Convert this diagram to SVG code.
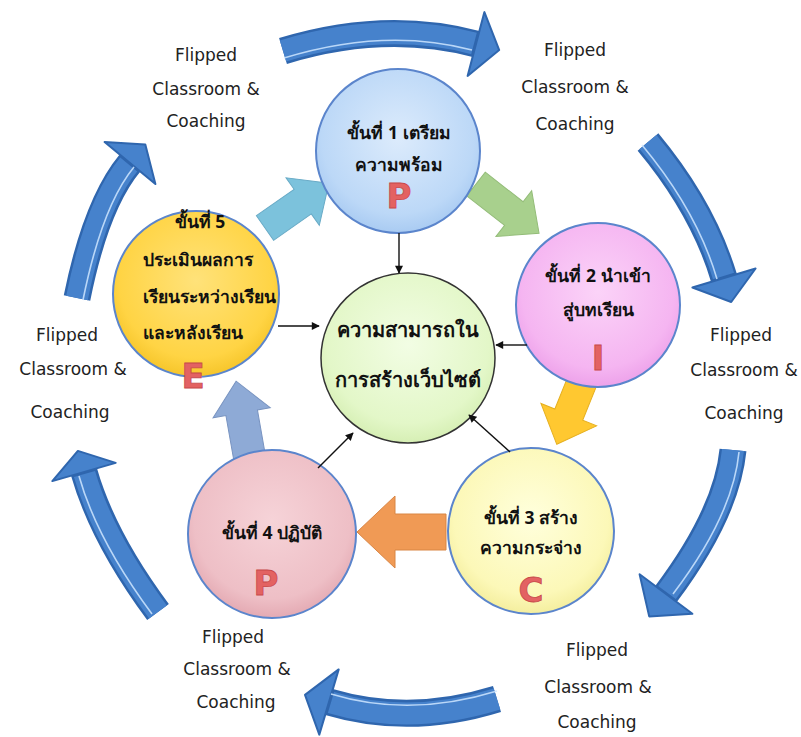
<svg xmlns="http://www.w3.org/2000/svg" width="801" height="737" viewBox="0 0 801 737">
<defs>
<radialGradient id="gBlue" cx="50%" cy="42%" r="58%"><stop offset="0" stop-color="#DCEBFC"/><stop offset="0.8" stop-color="#BCD8F7"/><stop offset="1" stop-color="#A9CBF2"/></radialGradient>
<radialGradient id="gPink" cx="50%" cy="42%" r="58%"><stop offset="0" stop-color="#FBD3F8"/><stop offset="0.8" stop-color="#F5B5F1"/><stop offset="1" stop-color="#EDA2EA"/></radialGradient>
<radialGradient id="gLY" cx="50%" cy="42%" r="58%"><stop offset="0" stop-color="#FFFFDC"/><stop offset="0.8" stop-color="#FCF8B8"/><stop offset="1" stop-color="#F4EE9E"/></radialGradient>
<radialGradient id="gRose" cx="50%" cy="42%" r="58%"><stop offset="0" stop-color="#F6D3D8"/><stop offset="0.8" stop-color="#EEBFC6"/><stop offset="1" stop-color="#E4AAB3"/></radialGradient>
<radialGradient id="gGold" cx="50%" cy="42%" r="58%"><stop offset="0" stop-color="#FFE27A"/><stop offset="0.8" stop-color="#FFD444"/><stop offset="1" stop-color="#F6C52A"/></radialGradient>
<radialGradient id="gGreen" cx="50%" cy="42%" r="58%"><stop offset="0" stop-color="#F2FDE4"/><stop offset="0.8" stop-color="#E3F7C8"/><stop offset="1" stop-color="#D6EFB4"/></radialGradient>
<marker id="ah" viewBox="0 0 10 10" refX="9" refY="5" markerWidth="9" markerHeight="8" orient="auto" markerUnits="userSpaceOnUse"><path d="M0,0 L10,5 L0,10 z" fill="#111"/></marker>
<style>
.lbl{font-family:'DejaVu Sans',sans-serif;font-size:17px;fill:#222;text-anchor:middle}
.th{font-family:'Noto Sans','DejaVu Sans',sans-serif;font-size:17.5px;font-weight:bold;fill:#111;text-anchor:middle}
.ctr{font-size:20px}
.st{text-anchor:start}
.big{font-family:'DejaVu Sans',sans-serif;font-weight:bold;font-size:34px;fill:#E36262;stroke:#C84A4A;stroke-width:.8;text-anchor:middle}
.ring{stroke:#5B85CC;stroke-width:2}
.bodyo{fill:none;stroke:#2F66AE;stroke-width:27}
.bodyi{fill:none;stroke:#4682CC;stroke-width:22}
.hl{fill:none;stroke:#CFE6FF;stroke-width:1.6;opacity:.85}
.head{fill:#4682CC;stroke:#2F66AE;stroke-width:2;stroke-linejoin:round}
.blk{stroke-width:1;stroke-linejoin:miter}
.conn{stroke:#111;stroke-width:1.4;fill:none;marker-end:url(#ah)}
</style>
</defs>
<rect width="801" height="737" fill="#fff"/>

<g id="cycle-arrows">
<g id="cyc1"><path class="bodyo" d="M283,51 Q385,20 476,44"/><path class="head" d="M467.6,75.9 L499.2,50.1 L484.4,12.1 z"/><path class="bodyi" d="M283,51 Q385,20 474,43.5"/><path class="hl" d="M284,58 Q385,27 472,50"/></g>
<g id="cyc2"><path class="bodyo" d="M648,142 Q703,208 724,278"/><path class="head" d="M692.4,287.5 L731.2,302 L755.6,268.5 z"/><path class="bodyi" d="M648,142 Q703,208 723.5,276"/><path class="hl" d="M642,145 Q697,211 717,279"/></g>
<g id="cyc3"><path class="bodyo" d="M733,450 Q726.7,513 666,594"/><path class="head" d="M692.4,613.8 L649.2,616.4 L639.6,574.2 z"/><path class="bodyi" d="M733,450 Q726.7,513 667,592.5"/><path class="hl" d="M739,452 Q733,515 673,594"/></g>
<g id="cyc4"><path class="bodyo" d="M497,699 Q410,726 329,702"/><path class="head" d="M338.7,669.4 L305,694.9 L319.3,734.6 z"/><path class="bodyi" d="M497,699 Q410,726 331,702.5"/><path class="hl" d="M497,691 Q410,718 331,694"/></g>
<g id="cyc5"><path class="bodyo" d="M158,612 Q103,538 84,472"/><path class="head" d="M115.7,462.9 L77.9,450.9 L52.3,481.1 z"/><path class="bodyi" d="M158,612 Q103,538 84.5,474"/><path class="hl" d="M152,614 Q97,540 79,476"/></g>
<g id="cyc6"><path class="bodyo" d="M77,298 Q96,204 130,163"/><path class="head" d="M155.4,184 L145.3,144.5 L104.6,142 z"/><path class="bodyi" d="M77,298 Q96,204 128.7,164.5"/><path class="hl" d="M83,300 Q102,206 134,167"/></g>
</g>

<g id="step-arrows">
<polygon class="blk" transform="translate(265,228) rotate(-35)" points="0,-15 46,-15 46,-29 78,0 46,29 46,15 0,15" fill="#7CC2DC" stroke="#68AAC6"/>
<polygon class="blk" transform="translate(476,184) rotate(38)" points="0,-15 48,-15 48,-29 80,0 48,29 48,15 0,15" fill="#A8D08D" stroke="#93BC78"/>
<polygon class="blk" transform="translate(586,372) rotate(112)" points="0,-15 46,-15 46,-30 78,0 46,30 46,15 0,15" fill="#FFC830" stroke="#E6B020"/>
<polygon class="blk" transform="translate(446,532) rotate(180)" points="0,-18 51,-18 51,-36 89,0 51,36 51,18 0,18" fill="#F09A55" stroke="#D98645"/>
<polygon class="blk" transform="translate(250,460) rotate(-100)" points="0,-16 48,-16 48,-29 80,0 48,29 48,16 0,16" fill="#8EAAD6" stroke="#7893C0"/>
</g>

<g id="node-center"><ellipse cx="408" cy="358" rx="87" ry="85" fill="url(#gGreen)" stroke="#333" stroke-width="1.5"/>
<text class="th ctr" x="408" y="337">ความสามารถใน</text>
<text class="th ctr" x="408" y="387">การสร้างเว็บไซต์</text></g>

<g id="node-1"><circle class="ring" cx="398" cy="151" r="82" fill="url(#gBlue)"/>
<text class="th" x="399" y="139">ขั้นที่ 1 เตรียม</text>
<text class="th" x="399" y="171">ความพร้อม</text>
<text class="big" x="399" y="208">P</text></g>

<g id="node-2"><circle class="ring" cx="598" cy="305" r="82" fill="url(#gPink)"/>
<text class="th" x="598" y="282">ขั้นที่ 2 นำเข้า</text>
<text class="th" x="598" y="316">สู่บทเรียน</text>
<text class="big" x="598" y="370">I</text></g>

<g id="node-3"><circle class="ring" cx="531" cy="531" r="83" fill="url(#gLY)"/>
<text class="th" x="531" y="524">ขั้นที่ 3 สร้าง</text>
<text class="th" x="531" y="554">ความกระจ่าง</text>
<text class="big" x="531" y="602">C</text></g>

<g id="node-4"><circle class="ring" cx="272" cy="534" r="84" fill="url(#gRose)"/>
<text class="th" x="272" y="539">ขั้นที่ 4 ปฏิบัติ</text>
<text class="big" x="266" y="595">P</text></g>

<g id="node-5"><circle class="ring" cx="196" cy="294" r="83" fill="url(#gGold)"/>
<text class="th" x="200" y="228">ขั้นที่ 5</text>
<text class="th st" x="143" y="266">ประเมินผลการ</text>
<text class="th st" x="143" y="303">เรียนระหว่างเรียน</text>
<text class="th st" x="143" y="339">และหลังเรียน</text>
<text class="big" x="193" y="388">E</text></g>

<g id="connectors">
<path class="conn" d="M399,233 L399,273"/>
<path class="conn" d="M278,326 L319,326"/>
<path class="conn" d="M527,345 L496,345"/>
<path class="conn" d="M510,452 L469,415"/>
<path class="conn" d="M318,468 L353,433"/>
</g>

<g id="labels">
<text class="lbl" x="206" y="61">Flipped</text><text class="lbl" x="206" y="95">Classroom &amp;</text><text class="lbl" x="206" y="127">Coaching</text>
<text class="lbl" x="575" y="56">Flipped</text><text class="lbl" x="575" y="93">Classroom &amp;</text><text class="lbl" x="575" y="130">Coaching</text>
<text class="lbl" x="741" y="341">Flipped</text><text class="lbl" x="744" y="376">Classroom &amp;</text><text class="lbl" x="744" y="419">Coaching</text>
<text class="lbl" x="597" y="656">Flipped</text><text class="lbl" x="598" y="693">Classroom &amp;</text><text class="lbl" x="597" y="728">Coaching</text>
<text class="lbl" x="233" y="643">Flipped</text><text class="lbl" x="237" y="675">Classroom &amp;</text><text class="lbl" x="236" y="708">Coaching</text>
<text class="lbl" x="67" y="341">Flipped</text><text class="lbl" x="73" y="375">Classroom &amp;</text><text class="lbl" x="70" y="418">Coaching</text>
</g>
</svg>
